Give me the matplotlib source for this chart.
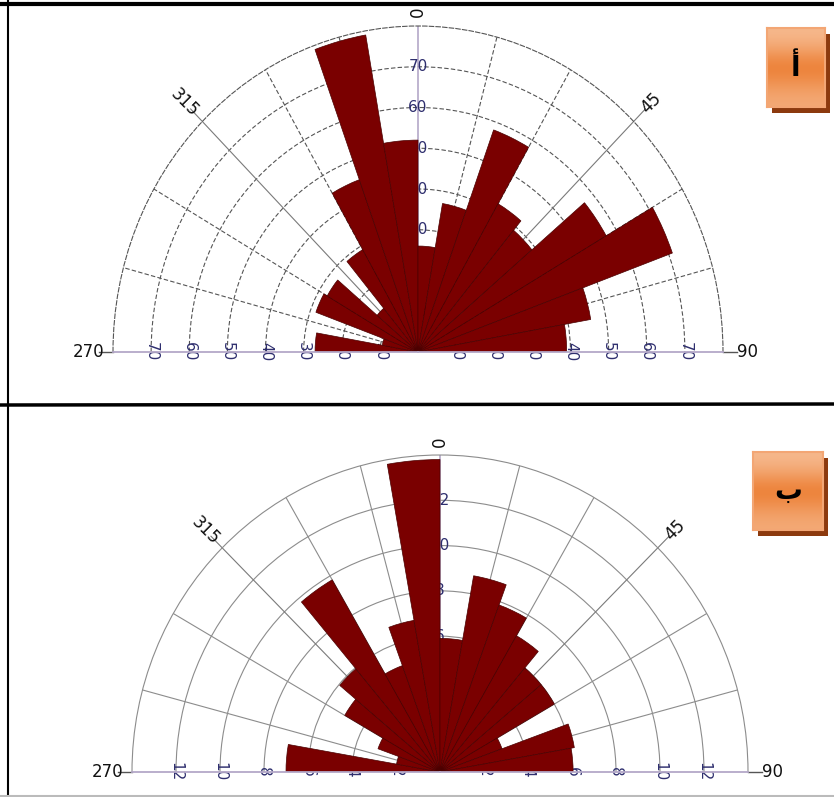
import matplotlib
matplotlib.use("Agg")
import matplotlib.pyplot as plt
import numpy as np
from matplotlib.colors import LinearSegmentedColormap
from matplotlib.patches import Rectangle

# direction bins (start of each 10 degree sector, clockwise from 270 to 90)
bin_starts = [270, 280, 290, 300, 310, 320, 330, 340, 350,
              0, 10, 20, 30, 40, 50, 60, 70, 80]

# panel a (top)
top_counts = [27, 9.5, 28.5, 27.5, 14, 29, 45, 79, 52,
              26, 37, 58, 42, 39, 57, 71, 46, 39]
top_rings = [10, 20, 30, 40, 50, 60, 70]
top_rmax = 80

# panel b (bottom)
bottom_counts = [7.0, 2.0, 3.0, 5.0, 5.95, 9.8, 5.0, 6.8, 13.8,
                 5.9, 8.8, 7.85, 6.95, 6.0, 6.0, 3.0, 6.2, 6.05]
bottom_rings = [2, 4, 6, 8, 10, 12]
bottom_rmax = 14

angle_labels = ["270", "315", "0", "45", "90"]
angle_values = [-90, -45, 0, 45, 90]
angle_rotations = [0, -45, 90, 45, 0]

W, H = 834, 797
BAR_COLOR = "#7a0000"
LABEL_COLOR = "#2e2e6e"
AXIS_COLOR = "#b4a8c8"


def fig_rect(x0, y0, x1, y1):
    return [x0 / W, 1 - y1 / H, (x1 - x0) / W, (y1 - y0) / H]


def half_rose(fig, cx, cy, rx, ry, counts, rings, rmax, grid_style, label_r):
    height = 2 * ry
    rect = fig_rect(cx - rx, cy + 0.25 * height - height, cx + rx, cy + 0.25 * height)
    ax = fig.add_axes(rect, projection="polar")
    ax.set_theta_zero_location("N")
    ax.set_theta_direction(-1)
    ax.set_thetamin(-90)
    ax.set_thetamax(90)
    ax.set_ylim(0, rmax)
    ax.set_aspect("auto")
    ax.set_axisbelow(True)

    ax.set_rgrids(rings, labels=[])
    ax.set_thetagrids([], labels=[])
    ax.yaxis.grid(True, color=grid_style["color"], linestyle=grid_style["ls"],
                  linewidth=0.8)
    ax.spines["polar"].set_color(grid_style["color"])
    ax.spines["polar"].set_linestyle(grid_style["ls"])
    ax.spines["polar"].set_linewidth(0.8)
    for side in ("start", "end"):
        ax.spines[side].set_color(AXIS_COLOR)
        ax.spines[side].set_linewidth(1.3)

    # spokes every 15 degrees
    for a in range(-75, 90, 15):
        th = np.deg2rad(a)
        if a == 0:
            ax.plot([th, th], [0, rmax], color=AXIS_COLOR, lw=1.2, zorder=0.6)
        elif a in (-45, 45):
            ax.plot([th, th], [0, label_r * 0.975], color="#7a7a7a",
                    lw=0.8, zorder=0.6, clip_on=False)
        else:
            ax.plot([th, th], [0, rmax], color=grid_style["color"],
                    ls=grid_style["ls"], lw=0.8, zorder=0.6)

    # baseline extensions toward 270 / 90 labels
    for a in (-90, 90):
        th = np.deg2rad(a)
        ax.plot([th, th], [rmax, rmax * 1.045], color="#555555", lw=1.0,
                clip_on=False)

    theta = np.deg2rad(((np.array(bin_starts) + 5 + 180) % 360) - 180)
    ax.bar(theta, counts, width=np.deg2rad(10), color=BAR_COLOR,
           edgecolor="#4a0000", linewidth=0.5, zorder=1)

    # radial labels (under the bars)
    for r in rings:
        ax.text(0, r, str(r), ha="center", va="center", fontsize=11,
                color=LABEL_COLOR, zorder=0.8)
        for a in (-90, 90):
            ax.text(np.deg2rad(a), r, str(r), ha="center", va="center",
                    rotation=-90, fontsize=11, color=LABEL_COLOR, zorder=0.8)

    for lab, a, rot in zip(angle_labels, angle_values, angle_rotations):
        r = label_r * (0.965 if a == 0 else 1.0)
        ax.text(np.deg2rad(a), r, lab, ha="center", va="center", rotation=rot,
                fontsize=12, color="#111111", clip_on=False)
    return ax


def label_box(fig, x0, y0, x1, y1, text):
    shadow = Rectangle(((x0 + 5) / W, 1 - (y1 + 6) / H), (x1 - x0) / W,
                       (y1 - y0) / H, transform=fig.transFigure,
                       facecolor="#8c3a0e", edgecolor="none", zorder=0.5)
    fig.add_artist(shadow)
    bax = fig.add_axes(fig_rect(x0, y0, x1, y1))
    bax.set_zorder(1)
    grad = np.array([0.0, 0.45, 1.0, 0.6, 0.25])
    cmap = LinearSegmentedColormap.from_list("box", ["#f6b88c", "#ec7c30"])
    bax.imshow(grad[:, None], aspect="auto", cmap=cmap, interpolation="bicubic",
               extent=[0, 1, 0, 1])
    bax.set_xlim(0, 1)
    bax.set_ylim(0, 1)
    bax.set_xticks([])
    bax.set_yticks([])
    for s in bax.spines.values():
        s.set_color("#f3a674")
        s.set_linewidth(1.5)
    bax.text(0.5, 0.5, text, ha="center", va="center", fontsize=20,
             fontweight="bold", color="black", family="DejaVu Sans")


fig = plt.figure(figsize=(W / 100, H / 100), dpi=100)

half_rose(fig, 418, 352, 305, 326, top_counts, top_rings, top_rmax,
          {"color": "#555555", "ls": (0, (4, 2))}, 86.5)
half_rose(fig, 440, 772, 308, 317, bottom_counts, bottom_rings, bottom_rmax,
          {"color": "#8c8c8c", "ls": "-"}, 15.1)

label_box(fig, 767, 28, 825, 107, "أ")
label_box(fig, 753, 452, 823, 530, "ب")

# table borders
fig.add_artist(plt.Line2D([0, 1], [1 - 4 / H, 1 - 4 / H], color="black", lw=3))
fig.add_artist(plt.Line2D([0, 1], [1 - 405 / H, 1 - 404 / H], color="black", lw=2.5))
fig.add_artist(plt.Line2D([8 / W, 8 / W], [0, 1], color="black", lw=1.5))
fig.add_artist(plt.Line2D([0, 1], [1.5 / H, 1.5 / H], color="#bbbbbb", lw=1.5))

fig.savefig("out.png", dpi=100)
